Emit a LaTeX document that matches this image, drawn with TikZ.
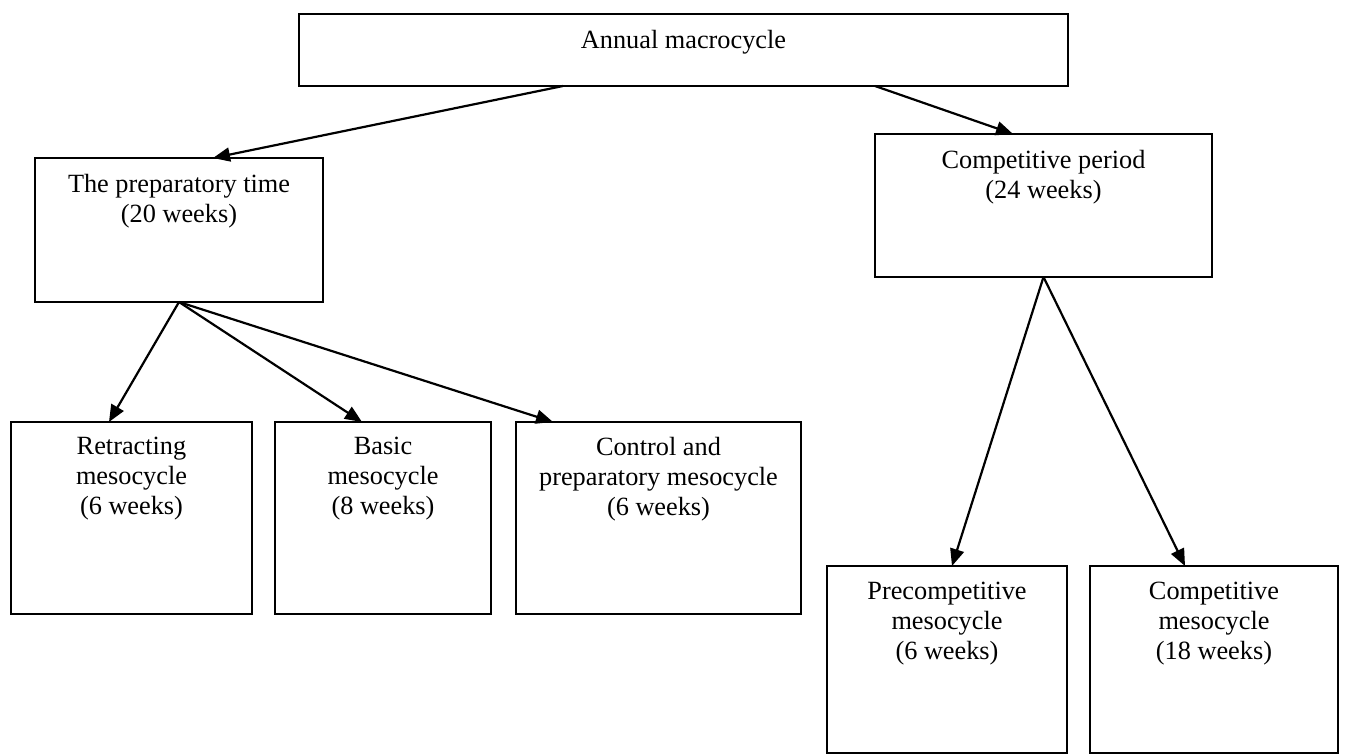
\documentclass[tikz,border=0pt]{standalone}
\usepackage{fontspec}
\setmainfont{Liberation Serif}
\usetikzlibrary{arrows.meta}
\begin{document}
\begin{tikzpicture}[x=1pt,y=-1pt,
  box/.style={draw, line width=1.6pt, inner sep=0pt, outer sep=0pt},
  lbl/.style={anchor=north, align=center, inner sep=0pt, font=\fontsize{26.3}{30}\selectfont},
  arr/.style={line width=2.2pt, -{Triangle[length=17pt,width=14pt]}}]
\useasboundingbox (0,0) rectangle (1345,754);
% boxes
\node[box, minimum width=769pt, minimum height=72pt] (top) at (683.5,50) {};
\node[box, minimum width=288pt, minimum height=144pt] (prep) at (179,230) {};
\node[box, minimum width=337pt, minimum height=143pt] (comp) at (1043.5,205.5) {};
\node[box, minimum width=241pt, minimum height=192pt] (retr) at (131.5,518) {};
\node[box, minimum width=216pt, minimum height=192pt] (basic) at (383,518) {};
\node[box, minimum width=285pt, minimum height=192pt] (ctrl) at (658.5,518) {};
\node[box, minimum width=240pt, minimum height=187pt] (precomp) at (947,659.5) {};
\node[box, minimum width=248pt, minimum height=187pt] (compmeso) at (1214,659.5) {};
% texts
\node[lbl] (ttop) at ([yshift=-16pt]top.north) {Annual macrocycle};
\node[lbl] (tprep) at ([yshift=-16pt]prep.north) {The preparatory time\\(20 weeks)};
\node[lbl] (tcomp) at ([yshift=-16pt]comp.north) {Competitive period\\(24 weeks)};
\node[lbl] (tretr) at ([yshift=-15pt]retr.north) {Retracting\\mesocycle\\(6 weeks)};
\node[lbl] (tbasic) at ([yshift=-15pt]basic.north) {Basic\\mesocycle\\(8 weeks)};
\node[lbl] (tctrl) at ([yshift=-15pt]ctrl.north) {Control and\\preparatory mesocycle\\(6 weeks)};
\node[lbl] (tprecomp) at ([yshift=-16pt]precomp.north) {Precompetitive\\mesocycle\\(6 weeks)};
\node[lbl] (tcompmeso) at ([yshift=-16pt]compmeso.north) {Competitive\\mesocycle\\(18 weeks)};
% arrows
\draw[arr] ([xshift=-120.5pt]top.south) -- ([xshift=34pt]prep.north);
\draw[arr] ([xshift=191.5pt]top.south) -- ([xshift=-30.5pt]comp.north);
\draw[arr] (prep.south) -- ([xshift=-22.5pt]retr.north);
\draw[arr] (prep.south) -- ([xshift=-21pt]basic.north);
\draw[arr] (prep.south) -- ([xshift=-105.5pt]ctrl.north);
\draw[arr] (comp.south) -- ([xshift=5pt]precomp.north);
\draw[arr] (comp.south) -- ([xshift=-29pt]compmeso.north);
\end{tikzpicture}
\end{document}
